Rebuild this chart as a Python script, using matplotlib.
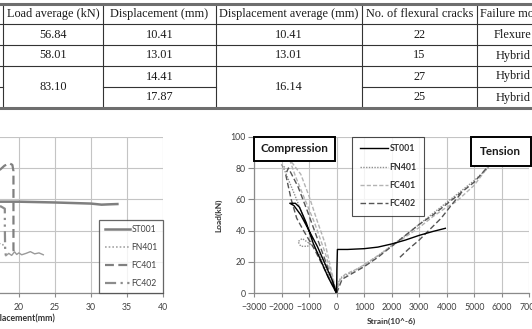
import matplotlib.pyplot as plt

W, H = 532, 329

# ---- table data ----
header = ["Load average (kN)", "Displacement (mm)", "Displacement average (mm)",
          "No. of flexural cracks", "Failure mode"]
load_avg = ["56.84", "58.01", "83.10"]          # last value spans rows 3-4
displacement = ["10.41", "13.01", "14.41", "17.87"]
disp_avg = ["10.41", "13.01", "16.14"]          # last value spans rows 3-4
cracks = ["22", "15", "27", "25"]
failure = ["Flexure", "Hybrid", "Hybrid", "Hybrid"]

# ---- load-displacement data (mm, kN) ----
st001_d = [0, 2, 4, 6, 8, 10.4, 15, 20, 25, 30, 31.5, 32.5, 33.7]
st001_p = [0, 15, 30, 45, 55, 57, 58.5, 58.5, 58, 57.3, 56.6, 56.8, 57]
fn401_d = [0, 4, 8, 12, 14, 15.5, 16.5, 17.5, 17.9]
fn401_p = [0, 22, 40, 52, 55, 45, 35, 31, 31]
fc401_d = [0, 3, 6, 9, 12, 14.4, 16, 17.4, 18, 18.7, 19.1, 19.25, 19.25, 19.3]
fc401_p = [0, 18, 36, 52, 66, 76, 79, 79, 81.5, 83, 82, 78, 28, 26]
fc402_d = [0, 4, 8, 12, 15, 17.5, 18.05, 18.05, 18.1, 18.2]
fc402_p = [0, 20, 38, 50, 55, 55.5, 54, 42, 27, 24]
tail_d = [18.2, 18.6, 19.0, 19.4, 19.7, 20.0, 20.4, 21.0, 21.6, 22.2, 22.8, 23.4]
tail_p = [24, 25.5, 24.2, 26.5, 24.8, 25.8, 24.6, 25.5, 26.6, 25.2, 25.8, 24.6]

# ---- load-strain data (10^-6, kN) ----
st001_c_e = [0, -150, -400, -700, -1000, -1300, -1550, -1700, -1500, -1350, -1100, -850, -600, -300, 0]
st001_c_p = [0, 8, 18, 30, 40, 50, 56, 57.5, 57.5, 55, 45, 32, 22, 10, 0]
st001_t_e = [0, 10, 30, 400, 1000, 1500, 2000, 2500, 3000, 3500, 3950]
st001_t_p = [0, 15, 28, 28, 28.5, 29.5, 31.5, 34, 37, 39.5, 41.5]
fn401_c_e = [0, -300, -600, -850, -1000, -1250, -1400, -1300, -1050, -900, -1150, -1500, -1900, -2000, -1850]
fn401_c_p = [0, 12, 24, 30, 32, 35, 33, 30, 30, 34, 46, 62, 79, 82, 80]
fn401_t_e = [0, 50, 150, 500, 1000, 1500, 2000, 2500, 3000, 3500, 4000, 4500, 5000, 5500, 5750]
fn401_t_p = [0, 6, 10, 13, 18, 24, 30.5, 37, 44, 51, 58, 65, 72, 80, 85]
fc401_c_e = [0, -400, -800, -1200, -1500, -1700, -1600, -1300, -1000, -700, -420, 0]
fc401_c_p = [0, 25, 45, 62, 75, 85, 83, 76, 62, 46, 32, 0]
fc401_t_e = [0, 100, 300, 800, 1500, 2000, 2500, 3000, 3500, 4000, 4300, 4500, 5000, 5600]
fc401_t_p = [0, 8, 12, 16, 24, 30, 36, 42, 49, 55, 58, 61, 69, 83]
fc402_c_e = [0, -350, -700, -1050, -1400, -1750, -1850, -1650, -1450, -1200, -800, -400, 0]
fc402_c_p = [0, 18, 35, 52, 68, 80, 76, 60, 48, 40, 28, 14, 0]
fc402_t_e = [0, 200, 600, 1000, 1500, 2000, 2500, 3000, 3500, 4000, 4500, 5000, 5650]
fc402_t_p = [0, 9, 13, 17, 23, 30, 37, 44, 50, 57, 64, 71, 84]
fc402_t2_e = [2300, 2600, 3000, 3400, 3800, 4200, 4530]
fc402_t2_p = [23, 28, 34, 41, 48, 57, 64]

SANS = ["Lato", "DejaVu Sans"]
TICK_C = "#404040"
GRID_C = "#c4c4c4"

fig = plt.figure(figsize=(W / 100, H / 100), dpi=100)

# ---- table, drawn in pixel coordinates ----
tab = fig.add_axes([0, 0, 1, 1])
tab.set_xlim(0, W)
tab.set_ylim(H, 0)
tab.axis("off")

col_x = [-60, 3.3, 102.7, 216, 361.5, 477, 549]
row_y = [4, 24, 45, 66, 87, 108]
merged = [1, 3]   # table column positions holding merged last cell
serif = "Liberation Serif"
fs_tab = 8.8

def cx(i):
    return (col_x[i] + col_x[i + 1]) / 2

for j, txt in enumerate(header):
    tab.text(cx(j + 1), (row_y[0] + row_y[1]) / 2, txt, ha="center", va="center",
             family=serif, fontsize=fs_tab, color="#1a1a1a")

columns = [load_avg, displacement, disp_avg, cracks, failure]
for j, vals in enumerate(columns):
    c = j + 1
    for r, v in enumerate(vals):
        if c in merged and r == 2:
            y = (row_y[3] + row_y[5]) / 2
        else:
            y = (row_y[r + 1] + row_y[r + 2]) / 2
        tab.text(cx(c), y, v, ha="center", va="center",
                 family=serif, fontsize=fs_tab, color="#1a1a1a")

for y in row_y[1:-1]:
    if y == row_y[4]:
        for c in range(len(col_x) - 1):
            if c not in merged:
                tab.plot([col_x[c], col_x[c + 1]], [y, y], color="#333333", lw=0.8)
    else:
        tab.plot([0, W], [y, y], color="#333333", lw=0.8)
for x in col_x[1:-1]:
    tab.plot([x, x], [row_y[0], row_y[-1]], color="#333333", lw=0.8)
for y in (row_y[0], row_y[-1]):
    tab.plot([0, W], [y, y], color="#6e6e6e", lw=2.2)

# ---- helper for chart axes ----
def pix_axes(x0, x1, y0, y1):
    return fig.add_axes([x0 / W, 1 - y1 / H, (x1 - x0) / W, (y1 - y0) / H])

def style(ax):
    ax.grid(True, color=GRID_C, lw=0.8)
    ax.set_axisbelow(True)
    for s in ("top", "right"):
        ax.spines[s].set_visible(False)
    for s in ("left", "bottom"):
        ax.spines[s].set_color("#8a8a8a")
        ax.spines[s].set_linewidth(0.9)
    ax.tick_params(colors="#8a8a8a", labelcolor=TICK_C, labelsize=6.3, width=0.8)
    for lab in ax.get_xticklabels() + ax.get_yticklabels():
        lab.set_family(SANS)

# ---- left chart: load vs displacement (cropped on the left) ----
ax1 = pix_axes(-125, 162.7, 136.7, 293.3)
ax1.set_xlim(0, 40)
ax1.set_ylim(0, 100)
ax1.set_xticks(range(0, 41, 5))
ax1.set_yticks(range(0, 101, 20))
ax1.tick_params(axis="x", length=3, pad=4)
style(ax1)
ax1.plot(st001_d, st001_p, color="#7f7f7f", lw=1.8, label="ST001")
ax1.plot(fn401_d, fn401_p, color="#a6a6a6", lw=1.2, ls=(0, (1, 1.2)), label="FN401")
ax1.plot(fc401_d, fc401_p, color="#808080", lw=1.6, ls=(0, (4, 2)), label="FC401")
ax1.plot(fc402_d, fc402_p, color="#8c8c8c", lw=1.6, ls=(0, (5, 2, 1, 2, 1, 2)), label="FC402")
ax1.plot(tail_d, tail_p, color="#9a9a9a", lw=1.0)
ax1.set_xlabel("Displacement(mm)", family=SANS, fontsize=6.3, fontweight="bold",
               color="#333333", labelpad=1)
leg1 = ax1.legend(loc="lower right", bbox_to_anchor=(1, 0), borderaxespad=0,
                  prop={"family": SANS, "size": 6.2}, labelspacing=1.05,
                  handlelength=3.0, handletextpad=0.1, fancybox=False,
                  borderpad=0.6, labelcolor=TICK_C)
leg1.get_frame().set_edgecolor("#404040")
leg1.get_frame().set_linewidth(0.9)

# ---- right chart: load vs strain ----
ax2 = pix_axes(254, 529.3, 136.7, 293.3)
ax2.set_xlim(-3000, 7000)
ax2.set_ylim(0, 100)
ax2.set_xticks(range(-3000, 7001, 1000))
ax2.set_yticks(range(0, 101, 20))
ax2.tick_params(axis="y", length=4, pad=2)
ax2.tick_params(axis="x", length=3, pad=4)
style(ax2)

kw_st = dict(color="black", lw=1.0)
kw_fn = dict(color="#8f8f8f", lw=1.0, ls=(0, (1, 1)))
kw_f1 = dict(color="#b3b3b3", lw=1.0, ls=(0, (3, 1.5)))
kw_f2 = dict(color="#555555", lw=1.0, ls=(0, (4, 2)))
ax2.plot(fn401_c_e, fn401_c_p, **kw_fn)
ax2.plot(fc401_c_e, fc401_c_p, **kw_f1)
ax2.plot(fc402_c_e, fc402_c_p, **kw_f2)
ax2.plot(st001_c_e, st001_c_p, **kw_st)
ax2.plot(fn401_t_e, fn401_t_p, **kw_fn)
ax2.plot(fc401_t_e, fc401_t_p, **kw_f1)
ax2.plot(fc402_t_e, fc402_t_p, **kw_f2)
ax2.plot(fc402_t2_e, fc402_t2_p, **kw_f2)
ax2.plot(st001_t_e, st001_t_p, **kw_st)

h_st, = ax2.plot([], [], label="ST001", **kw_st)
h_fn, = ax2.plot([], [], label="FN401", **kw_fn)
h_f1, = ax2.plot([], [], label="FC401", **kw_f1)
h_f2, = ax2.plot([], [], label="FC402", **kw_f2)
leg2 = ax2.legend(handles=[h_st, h_fn, h_f1, h_f2], loc="upper left",
                  bbox_to_anchor=(351.7 / W, 1 - 136.5 / H),
                  bbox_transform=fig.transFigure, borderaxespad=0,
                  prop={"family": SANS, "size": 6.3, "weight": "bold"},
                  labelspacing=1.05, handlelength=3.2, handletextpad=0.2,
                  fancybox=False, borderpad=0.9, labelcolor="#333333")
leg2.get_frame().set_edgecolor("#222222")
leg2.get_frame().set_linewidth(0.8)

ax2.set_xlabel("Strain(10^-6)", family=SANS, fontsize=6.0, fontweight="bold",
               color="#333333", labelpad=4)
ax2.set_ylabel("Load(kN)", family=SANS, fontsize=6.0, fontweight="bold",
               color="#333333", labelpad=6)

for txt, x0, x1, y0, y1 in [("Compression", 254, 335, 136.7, 160.7),
                            ("Tension", 471, 530.5, 136.7, 165.5)]:
    fig.patches.append(plt.Rectangle((x0 / W, 1 - y1 / H), (x1 - x0) / W, (y1 - y0) / H,
                                     transform=fig.transFigure, fc="white",
                                     ec="black", lw=1.4, zorder=5))
    fig.text((x0 + x1) / 2 / W, 1 - (y0 + y1) / 2 / H, txt, ha="center", va="center",
             family=SANS, fontsize=8.4, fontweight="bold", color="#1a1a1a", zorder=6)

fig.savefig("out.png", dpi=100)
